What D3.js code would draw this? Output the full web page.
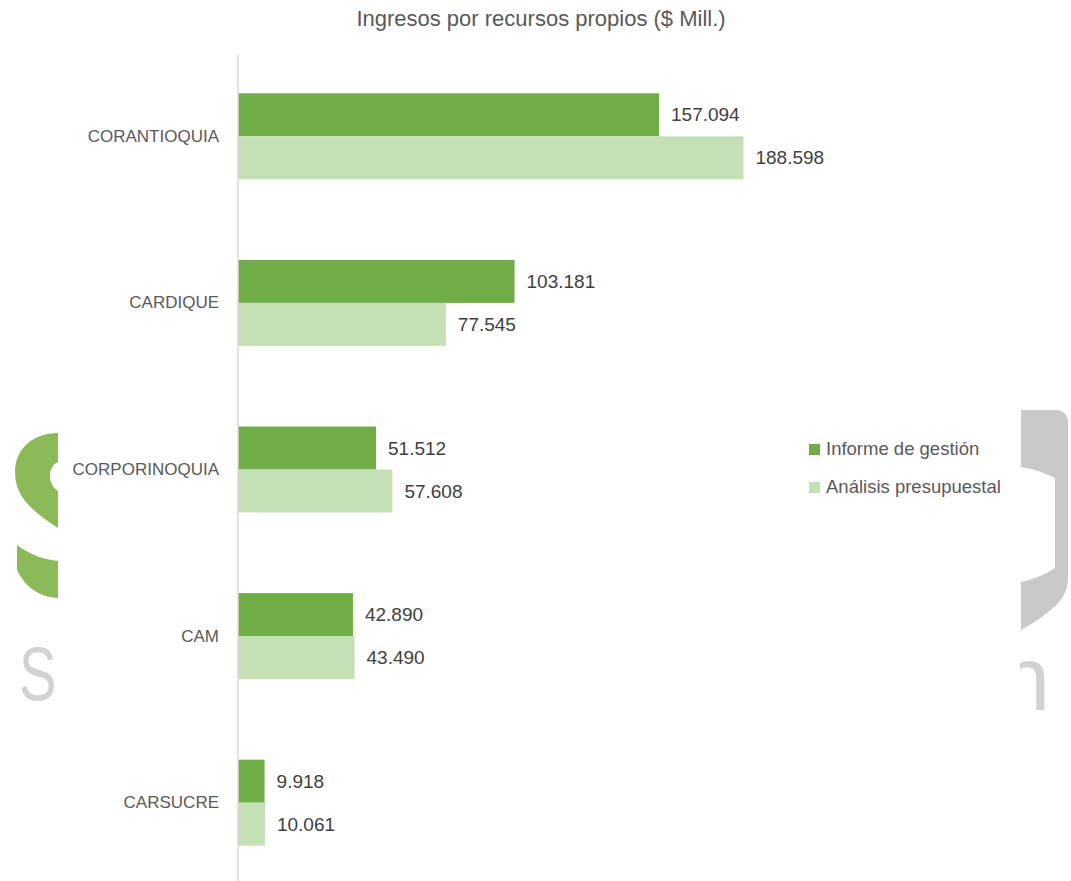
<!DOCTYPE html>
<html><head><meta charset="utf-8">
<script src="https://cdn.jsdelivr.net/npm/d3@7"></script>
<style>body{margin:0;background:#fff}svg{display:block}</style>
</head><body>
<script>
const categories = ["CORANTIOQUIA","CARDIQUE","CORPORINOQUIA","CAM","CARSUCRE"];
const seriesNames = ["Informe de gestión","Análisis presupuestal"];
const informe = [157094, 103181, 51512, 42890, 9918];
const analisis = [188598, 77545, 57608, 43490, 10061];
const colors = ["#70AD47","#C5E0B4"];
const title = "Ingresos por recursos propios ($ Mill.)";

const W = 1071, H = 881;
const svg = d3.select("body").append("svg").attr("width", W).attr("height", H);
const font = "'Liberation Sans', Arial, sans-serif";

// watermark decoration (background logo fragments)
const wm = svg.append("g").attr("class","watermark");
wm.append("path").attr("fill","#8dba59")
  .attr("d","M58,433 C34,433 15,448 15,472 C15,497 32,511 58,528 L58,491 C53,488 50,482 50,476 C50,469 53,464 58,462 Z");
wm.append("path").attr("fill","#8dba59")
  .attr("d","M17,545 L17,570 C26,589 41,597 58,598 L58,561 C40,559 28,553 17,545 Z");
wm.append("text").attr("transform","translate(22,700) scale(0.74,1)").attr("x",-4).attr("y",0)
  .attr("font-family",font).attr("font-size",76).attr("fill","#d2d2d2").text("S");
wm.append("path").attr("fill","#c9c9c9").attr("fill-rule","evenodd")
  .attr("d","M1021,410 L1055,410 Q1068,410 1068,424 L1068,578 Q1068,598 1048,612 Q1036,622 1021,630 Z " +
         "M1021,467 Q1040,470 1055,478 L1055,568 Q1040,578 1021,582 Z");
const cr = svg.append("defs").append("clipPath").attr("id","cr");
cr.append("rect").attr("x",1020).attr("y",600).attr("width",60).attr("height",150);
wm.append("text").attr("clip-path","url(#cr)").attr("x",1000).attr("y",710).attr("font-family",font)
  .attr("font-size",90).attr("fill","#d2d2d2").text("n");

const fmt = d3.formatLocale({decimal:",", thousands:".", grouping:[3], currency:["$",""]}).format(",d");

const x = d3.scaleLinear().domain([0, 200000]).range([238, 774]);
const y = d3.scaleBand().domain(categories).range([53, 886]).paddingInner(0.484).paddingOuter(0.242);
const ys = d3.scaleBand().domain(seriesNames).range([0, y.bandwidth()]);

svg.append("text").attr("x", 541).attr("y", 26).attr("text-anchor","middle")
  .attr("font-family",font).attr("font-size",22).attr("fill","#595959").text(title);

const data = [informe, analisis];
const g = svg.append("g");
seriesNames.forEach((s, si) => {
  g.selectAll(".b"+si).data(categories).join("rect")
    .attr("x", x(0)).attr("y", c => y(c) + ys(s))
    .attr("width", (c,i) => x(data[si][i]) - x(0)).attr("height", ys.bandwidth())
    .attr("fill", colors[si]);
  g.selectAll(".l"+si).data(categories).join("text")
    .attr("x", (c,i) => x(data[si][i]) + 12).attr("y", c => y(c) + ys(s) + ys.bandwidth()/2)
    .attr("dy","0.35em").attr("font-family",font).attr("font-size",19).attr("fill","#404040")
    .text((c,i) => fmt(data[si][i]));
});

// category axis
const ax = svg.append("g").attr("transform",`translate(${x(0)},0)`)
  .call(d3.axisLeft(y).tickSize(0).tickPadding(19));
ax.select(".domain").attr("stroke","#d9d9d9").attr("stroke-width",1.5).attr("d","M0,55V881");
ax.selectAll("text").attr("font-family",font).attr("font-size",17).attr("fill","#595959");

// legend
const lg = svg.append("g");
seriesNames.forEach((s, i) => {
  const yy = 449 + i*38;
  lg.append("rect").attr("x",809).attr("y",yy-5).attr("width",11).attr("height",11).attr("fill",colors[i]);
  lg.append("text").attr("x",826).attr("y",yy).attr("dy","0.35em").attr("font-family",font)
    .attr("font-size",18.5).attr("fill","#595959").text(s);
});
</script>
</body></html>
